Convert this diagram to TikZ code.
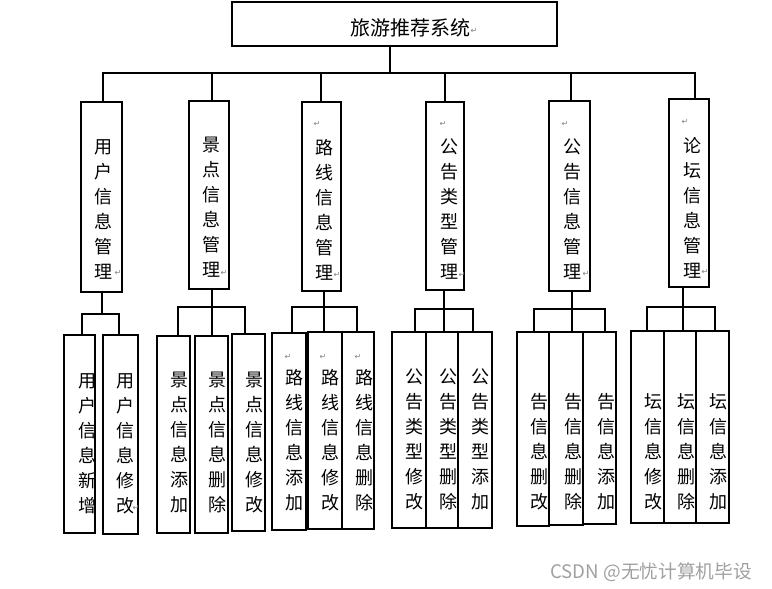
\documentclass[tikz,border=0pt]{standalone}
\usepackage{fontspec}
\setmainfont{Noto Sans CJK SC}
\newfontfamily\markfont{DejaVu Sans}
\XeTeXlinebreaklocale "zh"
\XeTeXlinebreakskip=0pt plus 1pt
\usepackage{tikz}
\usetikzlibrary{positioning, fit, calc}
\definecolor{markgray}{RGB}{128,128,128}
\definecolor{wmgray}{RGB}{160,160,160}

\tikzset{
  box/.style={draw, line width=1.1pt, inner sep=0pt},
  vtext/.style={align=center, text width=15pt, inner sep=0pt, font=\fontsize{13.5}{18.75}\selectfont},
  pmark/.style={inner sep=0pt, text=markgray, font=\markfont\fontsize{6}{6}\selectfont},
  link/.style={line width=1pt},
}

\begin{document}
\begin{tikzpicture}[x=0.75pt, y=-0.75pt]
\useasboundingbox (0,0) rectangle (772,589);
% Root
\node[box, fit={(232,2) (557,46)}] (top) {};
\node[inner sep=0pt, font=\fontsize{15}{15}\selectfont] (title) at (410,28) {旅游推荐系统};
% Modules
\foreach \i/\xa/\ya/\xb/\yb/\tx/\ty/\txt in {
  1/81/102/122/292/103/209.5/用户信息管理,
  2/189/101/229/289/211/207.5/景点信息管理,
  3/302/102/341/291/324/209.5/路线信息管理,
  4/426/102/464/290/449/209.5/公告类型管理,
  5/549/101/590/291/572/209.5/公告信息管理,
  6/669/99/709/287/692/207.5/论坛信息管理
} {
  \node[box, fit={(\xa,\ya) (\xb,\yb)}] (m\i) {};
  \node[vtext] (mt\i) at (\tx,\ty) {\txt};
}
% Leaves
\foreach \i/\xa/\ya/\xb/\yb/\tx/\ty/\txt in {
  1/64/335/95/533/87/443.5/用户信息新增,
  2/103/335/138/534/125/443.5/用户信息修改,
  3/157/336/190/533/179/442.5/景点信息添加,
  4/195/336/228/533/217/442.5/景点信息删除,
  5/232/334/265/531/254/442.5/景点信息修改,
  6/272/333/306/530/294/440.5/路线信息添加,
  7/308/332/342/529/330/440.5/路线信息修改,
  8/342/332/374/529/364/440.5/路线信息删除,
  9/392/332/426/528/414/439.5/公告类型修改,
  10/426/332/458/528/448/439.5/公告类型删除,
  11/458/332/492/528/480/439.5/公告类型添加,
  12/517/332/549/526/539/452/告信息删改,
  13/549/332/583/525/573/452/告信息删除,
  14/583/332/616/524/606/452/告信息添加,
  15/631/331/664/523/653/452/坛信息修改,
  16/664/331/696/523/686/452/坛信息删除,
  17/696/331/729/523/718/452/坛信息添加
} {
  \node[box, fit={(\xa,\ya) (\xb,\yb)}] (l\i) {};
  \node[vtext] (lt\i) at (\tx,\ty) {\txt};
}
% Root to modules
\coordinate (hub) at (390,73);
\draw[link] (hub |- top.south) -- (hub);
\foreach \i/\sx in {1/103, 2/212, 3/321, 4/445, 5/571, 6/695} {
  \draw[link] (m\i.north -| \sx,0) |- (hub);
}
% Modules to leaves
\foreach \g/\bx/\by/\ls in {1/102/314/{1/82,2/119}, 2/212/307/{3/178,4/212,5/245},
                            3/324/307/{6/292,7/324,8/357}, 4/444/309/{9/415,10/444,11/473},
                            5/572/309/{12/534,13/572,14/605}, 6/683/307/{15/647,16/683,17/715}} {
  \coordinate (b\g) at (\bx,\by);
  \draw[link] (m\g.south -| b\g) -- (b\g);
  \foreach \l/\sx in \ls {
    \draw[link] (b\g) -| (l\l.north -| \sx,0);
  }
}
% Paragraph marks
\foreach \k/\px/\py in {0/474/31, 1/118/273, 2/224/273, 3/337/275, 4/462/275, 5/586/274,
                        6/705/272, 7/317/124, 8/443/124, 9/565/124, 10/685/122,
                        11/136/508, 12/288/357, 13/323/357, 14/358/357} {
  \node[pmark] (p\k) at (\px,\py) {↵};
}
% Watermark
\node[anchor=east, inner sep=0pt, text=wmgray, font=\fontsize{14}{14}\selectfont] (wm) at (752,572) {CSDN @无忧计算机毕设};
\end{tikzpicture}
\end{document}
